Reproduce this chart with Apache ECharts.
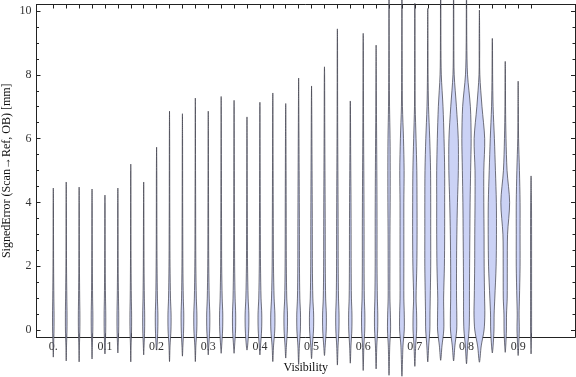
<!DOCTYPE html>
<html>
<head>
<meta charset="utf-8">
<script src="https://cdn.jsdelivr.net/npm/echarts@6/dist/echarts.min.js"></script>
<style>html,body{margin:0;padding:0;background:#fff;}#c{width:576px;height:377px;}</style>
</head>
<body>
<div id="c"></div>
<script>
// Violin positions (visibility bins)
const POSITIONS = [0,0.025,0.05,0.075,0.1,0.125,0.15,0.175,0.2,0.225,0.25,0.275,0.3,0.325,0.35,0.375,0.4,0.425,0.45,0.475,0.5,0.525,0.55,0.575,0.6,0.625,0.65,0.675,0.7,0.725,0.75,0.775,0.8,0.825,0.85,0.875,0.9,0.925];
// Lowest / highest signed error of each bin [mm]
const MINS = [-0.85,-0.97,-1.0,-0.91,-0.75,-0.72,-1.0,-0.78,-0.63,-0.99,-0.82,-0.99,-0.78,-0.73,-0.73,-0.63,-0.78,-0.99,-0.88,-1.08,-0.9,-0.8,-1.1,-1.04,-1.27,-1.22,-1.42,-1.45,-1.14,-1.0,-0.95,-0.97,-1.06,-1.01,-0.72,-0.7,-0.8,-0.75];
const MAXS = [4.45,4.64,4.48,4.42,4.23,4.45,5.2,4.64,5.73,6.86,6.78,7.27,6.86,7.32,7.2,6.68,7.14,7.43,7.1,7.9,7.65,8.25,9.44,7.18,9.3,8.93,10.8,10.8,10.24,10.08,11.0,10.9,10.9,10.03,9.14,8.42,7.8,4.83];
// Error levels at which the density half-width is sampled [mm]
const LEVELS = [-0.5,0,0.5,1,2,3,4,5,6,7,8,9,10];
// Density half-width of each violin at LEVELS (thousandths of visibility units)
const WIDTHS = [
  [0.6,1.4,1.5,1.1,0.6,0.4,0.3,0,0,0,0,0,0],
  [0.6,1.5,1.6,1.2,0.6,0.4,0.3,0,0,0,0,0,0],
  [0.6,1.4,1.5,1.1,0.6,0.4,0.3,0,0,0,0,0,0],
  [0.6,1.5,1.6,1.1,0.6,0.4,0.3,0,0,0,0,0,0],
  [0.6,1.5,1.6,1.1,0.6,0.4,0.3,0,0,0,0,0,0],
  [0.6,1.6,1.7,1.2,0.6,0.4,0.3,0,0,0,0,0,0],
  [0.6,1.5,1.6,1.1,0.6,0.4,0.3,0.2,0,0,0,0,0],
  [0.7,1.8,1.9,1.3,0.7,0.5,0.3,0,0,0,0,0,0],
  [0.9,2.3,2.5,1.6,0.9,0.6,0.5,0.4,0,0,0,0,0],
  [1.0,2.8,3.0,1.9,1.0,0.7,0.5,0.4,0.3,0,0,0,0],
  [0.9,2.3,2.6,1.7,0.9,0.7,0.5,0.4,0.3,0,0,0,0],
  [1.0,2.8,3.0,1.9,1.0,0.7,0.6,0.4,0.3,0.2,0,0,0],
  [1.0,2.8,3.0,1.9,1.0,0.7,0.6,0.4,0.3,0,0,0,0],
  [1.0,2.8,3.1,2.0,1.0,0.8,0.6,0.5,0.3,0.2,0,0,0],
  [1.0,2.9,3.1,2.0,1.1,0.8,0.6,0.5,0.3,0.2,0,0,0],
  [1.2,3.3,3.6,2.2,1.1,0.8,0.6,0.4,0.3,0,0,0,0],
  [1.2,3.3,3.6,2.2,1.2,0.9,0.7,0.5,0.3,0.2,0,0,0],
  [1.4,3.8,4.0,2.5,1.3,1.0,0.8,0.6,0.4,0.3,0,0,0],
  [1.3,3.2,3.4,2.0,1.2,1.0,0.9,0.7,0.5,0.3,0,0,0],
  [1.4,3.4,3.6,2.3,1.6,1.5,1.3,1.0,0.7,0.4,0,0,0],
  [1.5,3.8,4.0,2.5,1.6,1.5,1.3,1.0,0.7,0.4,0,0,0],
  [1.4,3.4,3.6,2.3,1.6,1.5,1.3,1.0,0.7,0.5,0.3,0,0],
  [1.3,3.0,3.2,2.2,1.6,1.5,1.3,1.0,0.7,0.5,0.4,0.3,0],
  [1.3,3.0,3.2,2.2,1.7,1.6,1.4,1.0,0.6,0.3,0,0,0],
  [1.3,3.0,3.2,2.2,1.7,1.7,1.5,1.2,0.8,0.6,0.4,0.3,0],
  [1.3,3.0,3.2,2.4,1.8,1.8,1.7,1.4,1.0,0.6,0.4,0,0],
  [1.4,3.0,2.6,1.7,1.7,1.8,2.2,2.3,2.0,1.0,0.6,0.4,0.3],
  [2.0,4.5,4.5,3.7,3.7,3.7,3.7,4.2,3.0,1.0,0.6,0.4,0.3],
  [1.6,3.5,3.4,2.4,3.8,4.3,4.2,3.8,2.3,0.7,0.5,0.4,0.3],
  [1.8,4.0,4.3,4.8,5.7,5.7,5.7,5.4,3.8,1.5,0.6,0.4,0.3],
  [2.5,6.0,6.0,5.7,7.2,7.7,7.7,7.7,6.5,4.5,1.2,0.5,0.4],
  [2.5,6.0,6.2,5.7,5.7,6.3,7.5,9.2,9.0,5.5,1.2,0.5,0.4],
  [2.2,5.0,5.7,5.7,6.0,6.5,7.0,8.0,9.0,7.5,2.0,0.6,0.4],
  [3.5,9.0,10.5,10.0,9.2,9.0,8.5,8.5,10.2,5.0,0.8,0.5,0.2],
  [1.5,3.2,3.5,4.8,7.3,8.0,7.8,6.0,4.0,1.5,0.6,0.3,0],
  [1.0,2.3,2.5,3.8,4.0,4.5,8.5,3.5,1.5,0.6,0.4,0,0],
  [1.0,2.2,1.8,2.5,3.7,3.7,3.7,2.5,0.8,0.4,0,0,0],
  [0.4,1.0,1.0,1.0,1.0,1.0,0.8,0,0,0,0,0,0]
];
// Tick values
const X_LABEL_VALUES = [0,0.1,0.2,0.3,0.4,0.5,0.6,0.7,0.8,0.9];
const Y_MAJOR = [0,2,4,6,8,10];
const Y_MINOR = [0.5,1,1.5,2.5,3,3.5,4.5,5,5.5,6.5,7,7.5,8.5,9,9.5];

const X_MIN = -0.03253, X_MAX = 1.01006;
const Y_MIN = -0.2194, Y_MAX = 10.2038;

const FONT = '"Liberation Serif", "DejaVu Serif", serif';
const AX = '#222';
const LBL = '#333';

const chart = echarts.init(document.getElementById('c'), null, {renderer: 'canvas'});

function renderViolin(params, api) {
  const i = params.dataIndex;
  const x = api.value(0);
  const lo = api.value(1), hi = api.value(2);
  const ws = WIDTHS[i];
  const knots = [[lo, 0]];
  LEVELS.forEach((l, k) => {
    if (l > lo + 0.12 && l < hi - 0.12) knots.push([l, ws[k] / 1000]);
  });
  knots.push([hi, 0]);
  const pts = [];
  for (let k = 0; k < knots.length; k++) pts.push(api.coord([x + knots[k][1], knots[k][0]]));
  for (let k = knots.length - 2; k >= 1; k--) pts.push(api.coord([x - knots[k][1], knots[k][0]]));
  return {
    type: 'polygon',
    shape: {points: pts, smooth: 0.3},
    style: {fill: '#cbd2f5', stroke: 'rgba(62,62,72,0.8)', lineWidth: 0.9}
  };
}

const tickStyle = {color: AX, width: 1};

chart.setOption({
  animation: false,
  grid: {left: 36.5, right: 1, top: 4.5, bottom: 40, containLabel: false, outerBoundsMode: 'none'},
  xAxis: [
    {
      type: 'value', position: 'bottom', offset: 0, min: X_MIN, max: X_MAX,
      axisLine: {show: true, onZero: false, lineStyle: {color: AX, width: 1}},
      axisTick: {show: true, inside: true, length: 4, customValues: POSITIONS, lineStyle: tickStyle},
      axisLabel: {show: true, customValues: X_LABEL_VALUES, margin: 4, color: LBL, fontFamily: FONT, fontSize: 12,
        formatter: v => (Math.abs(v) < 1e-9 ? '0.' : v.toFixed(1))},
      splitLine: {show: false},
      name: 'Visibility', nameLocation: 'middle', nameGap: 25, nameMoveOverlap: false,
      nameTextStyle: {color: '#111', fontFamily: FONT, fontSize: 12}
    },
    {
      type: 'value', position: 'top', offset: 0, min: X_MIN, max: X_MAX,
      axisLine: {show: true, onZero: false, lineStyle: {color: AX, width: 1}},
      axisTick: {show: true, inside: true, length: 4, customValues: POSITIONS, lineStyle: tickStyle},
      axisLabel: {show: false},
      splitLine: {show: false}
    }
  ],
  yAxis: [
    {
      type: 'value', position: 'left', offset: 0, min: Y_MIN, max: Y_MAX,
      axisLine: {show: true, onZero: false, lineStyle: {color: AX, width: 1}},
      axisTick: {show: true, inside: true, length: 4, customValues: Y_MAJOR, lineStyle: tickStyle},
      axisLabel: {show: true, customValues: Y_MAJOR, margin: 5, color: LBL, fontFamily: FONT, fontSize: 12},
      splitLine: {show: false},
      name: 'SignedError (Scan\u2192Ref, OB) [mm]', nameLocation: 'middle', nameGap: 24, nameMoveOverlap: false,
      nameTextStyle: {color: '#111', fontFamily: FONT, fontSize: 12}
    },
    {
      type: 'value', position: 'left', offset: 0, min: Y_MIN, max: Y_MAX,
      axisLine: {show: true, onZero: false, lineStyle: {color: AX, width: 1}},
      axisTick: {show: true, inside: true, length: 2.5, customValues: Y_MINOR, lineStyle: tickStyle},
      axisLabel: {show: false}, splitLine: {show: false}
    },
    {
      type: 'value', position: 'right', offset: 0, min: Y_MIN, max: Y_MAX,
      axisLine: {show: true, onZero: false, lineStyle: {color: AX, width: 1}},
      axisTick: {show: true, inside: true, length: 4, customValues: Y_MAJOR, lineStyle: tickStyle},
      axisLabel: {show: false}, splitLine: {show: false}
    },
    {
      type: 'value', position: 'right', offset: 0, min: Y_MIN, max: Y_MAX,
      axisLine: {show: true, onZero: false, lineStyle: {color: AX, width: 1}},
      axisTick: {show: true, inside: true, length: 2.5, customValues: Y_MINOR, lineStyle: tickStyle},
      axisLabel: {show: false}, splitLine: {show: false}
    }
  ],
  series: [{
    type: 'custom',
    xAxisIndex: 0, yAxisIndex: 0,
    clip: false,
    z: 5,
    renderItem: renderViolin,
    encode: {x: 0, y: [1, 2]},
    data: POSITIONS.map((p, i) => [p, MINS[i], MAXS[i]])
  }]
});
</script>
</body>
</html>
